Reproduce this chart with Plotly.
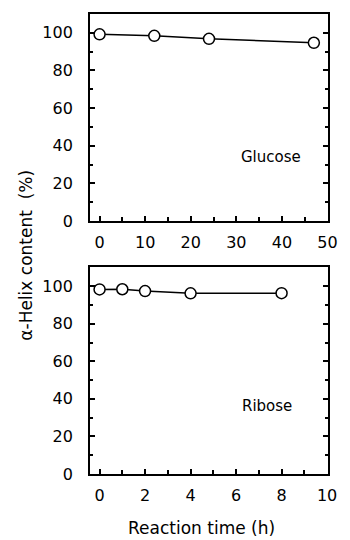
import plotly.graph_objects as go

glucose_time = [0, 12, 24, 47]
glucose_helix = [99.2, 98.4, 96.8, 94.7]
ribose_time = [0, 1, 2, 4, 8]
ribose_helix = [98.3, 98.4, 97.4, 96.2, 96.3]

FONT = "DejaVu Sans"
marker = dict(symbol="circle", size=11, color="white", line=dict(color="black", width=1.5))
line = dict(color="black", width=1.5)

fig = go.Figure()
fig.add_trace(go.Scatter(x=glucose_time, y=glucose_helix, mode="lines+markers",
                         marker=marker, line=line, xaxis="x", yaxis="y", showlegend=False))
fig.add_trace(go.Scatter(x=ribose_time, y=ribose_helix, mode="lines+markers",
                         marker=marker, line=line, xaxis="x2", yaxis="y2", showlegend=False))

common_axis = dict(showline=True, linecolor="black", linewidth=1.8, showgrid=False,
                   zeroline=False, ticks="inside", tickcolor="black", tickwidth=1.5,
                   tickfont=dict(family=FONT, size=16, color="black"))

yax = dict(common_axis, range=[0, 110], tickvals=[0, 20, 40, 60, 80, 100], ticklen=5,
           mirror="ticks", ticklabelstandoff=12,
           minor=dict(ticks="inside", dtick=10, ticklen=3, tickcolor="black", tickwidth=1.5))

fig.update_layout(
    width=350, height=540,
    margin=dict(l=90, r=12, t=14, b=66),
    paper_bgcolor="white", plot_bgcolor="white",
    xaxis=dict(common_axis, domain=[0, 1], range=[-2.1, 50.1], anchor="y",
               tickvals=[0, 10, 20, 30, 40, 50], ticklen=5, mirror=True, ticklabelstandoff=6,
               minor=dict(ticks="inside", dtick=5, ticklen=4, tickcolor="black", tickwidth=1.5)),
    yaxis=dict(yax, domain=[0.55, 1], anchor="x"),
    xaxis2=dict(common_axis, domain=[0, 1], range=[-0.42, 10.04], anchor="y2",
                tickvals=[0, 2, 4, 6, 8, 10], ticklen=5, mirror=True, ticklabelstandoff=6,
                minor=dict(ticks="inside", dtick=1, ticklen=4, tickcolor="black", tickwidth=1.5)),
    yaxis2=dict(yax, domain=[0, 0.449], anchor="x2"),
    annotations=[
        dict(text="Glucose", x=37.5, y=34, xref="x", yref="y", showarrow=False,
             xanchor="center", yanchor="middle",
             font=dict(family=FONT, size=15, color="black")),
        dict(text="Ribose", x=7.34, y=36.3, xref="x2", yref="y2", showarrow=False,
             xanchor="center", yanchor="middle",
             font=dict(family=FONT, size=15, color="black")),
        dict(text="Reaction time (h)", x=206, y=528, xref="paper", yref="paper",
             showarrow=False, xanchor="center", yanchor="middle",
             font=dict(family=FONT, size=17, color="black")),
        dict(text="α-Helix content  (%)", textangle=-90, x=23, y=255, xref="paper", yref="paper",
             showarrow=False, xanchor="center", yanchor="middle",
             font=dict(family=FONT, size=17, color="black")),
    ],
)

# convert pixel positions of the outer titles into paper coordinates
plot_w = 350 - 90 - 12
plot_h = 540 - 14 - 66
anns = list(fig.layout.annotations)
for a in anns[2:]:
    px, py = a.x, a.y
    a.x = (px - 90) / plot_w
    a.y = (540 - 66 - py) / plot_h
fig.layout.annotations = anns

fig.write_html("out.html")
